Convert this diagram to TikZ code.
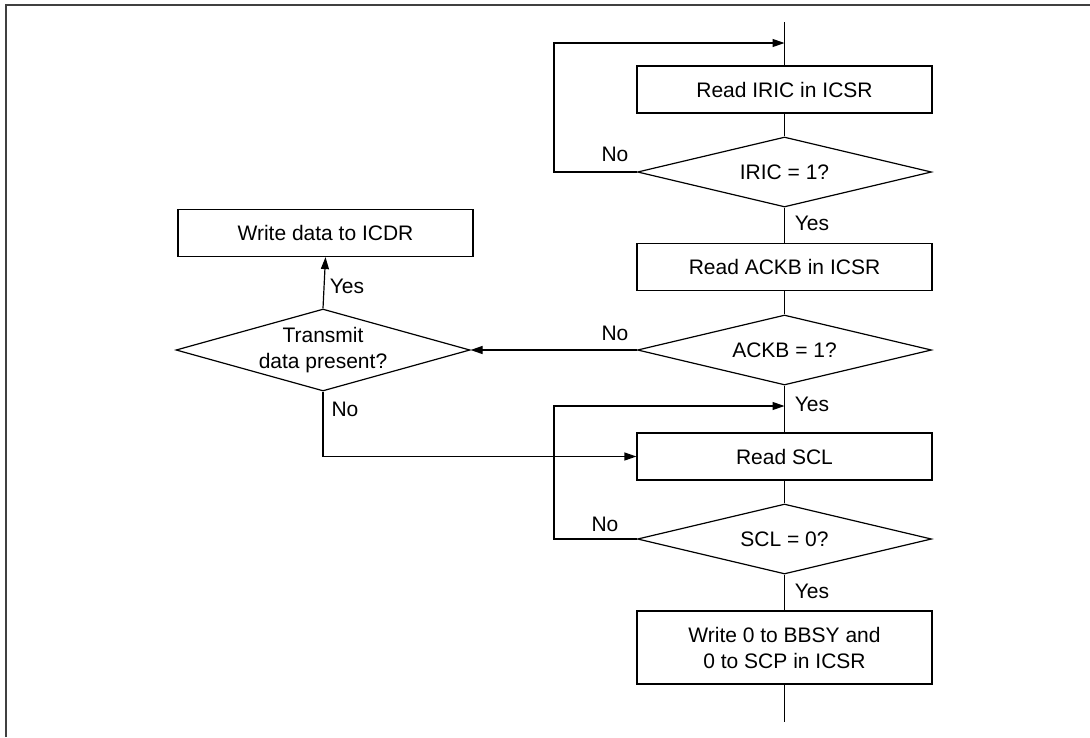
\documentclass[tikz,border=0pt]{standalone}
\usepackage{fontspec}
\setmainfont{Liberation Sans}
\usetikzlibrary{shapes.geometric,arrows.meta}
\begin{document}
\begin{tikzpicture}[x=1pt,y=-1pt,
  line width=1.2pt,
  font=\fontsize{21}{26}\selectfont,
  procbox/.style={draw, rectangle, minimum width=295pt, minimum height=47pt, inner sep=0pt, align=center},
  decide/.style={draw, diamond, aspect=4.2, minimum width=294pt, minimum height=70pt, inner sep=0pt, align=center},
  lbl/.style={inner sep=0pt},
  arr/.style={-{Triangle[length=12pt,width=8pt]}}
]
\useasboundingbox (0,0) rectangle (1090,737);
\draw[line width=2pt, black!75] (6,737) -- (6,5) -- (1090,5);

\node[procbox] (r1) at (784.5,89.5) {Read IRIC in ICSR};
\node[decide]  (d1) at (784.5,172) {IRIC = 1?};
\node[procbox] (r2) at (784.5,267) {Read ACKB in ICSR};
\node[decide]  (d2) at (784.5,350) {ACKB = 1?};
\node[procbox] (r3) at (784.5,456.5) {Read SCL};
\node[decide]  (d3) at (784.5,539) {SCL = 0?};
\node[procbox, minimum height=73pt] (r4) at (784.5,647.5) {Write 0 to BBSY and\\0 to SCP in ICSR};
\node[procbox] (w) at (325.5,233) {Write data to ICDR};
\node[draw, diamond, aspect=3.6, minimum width=294pt, minimum height=82pt, inner sep=0pt, align=center] (t) at (323,350) {Transmit\\data present?};

\coordinate (top) at (784.5,22);
\coordinate (j1) at (784.5,43);
\coordinate (l1) at (554,43);
\coordinate (j3) at (784.5,406);
\coordinate (l3) at (554,406);
\coordinate (bot) at (784.5,722);

\draw (top) -- (r1.north);
\draw (r1.south) -- (d1.north);
\draw[arr] (d1.west) -| (l1) -- (j1);
\draw (d1.south) -- (r2.north);
\draw (r2.south) -- (d2.north);
\draw[arr] (d2.west) -- (t.east);
\draw[arr] (t.north) -- (w.south);
\draw (d2.south) -- (r3.north);
\draw[arr] (t.south) |- (r3.west);
\draw[arr] (d3.west) -| (l3) -- (j3);
\draw (r3.south) -- (d3.north);
\draw (d3.south) -- (r4.north);
\draw (r4.south) -- (bot);

\node[lbl] (n1) at (615,154) {No};
\node[lbl] (y1) at (812,223) {Yes};
\node[lbl] (n2) at (615,333) {No};
\node[lbl] (y2) at (347,286) {Yes};
\node[lbl] (n3) at (345,409) {No};
\node[lbl] (y3) at (812,404) {Yes};
\node[lbl] (n4) at (605,524) {No};
\node[lbl] (y4) at (812,591) {Yes};
\end{tikzpicture}
\end{document}
